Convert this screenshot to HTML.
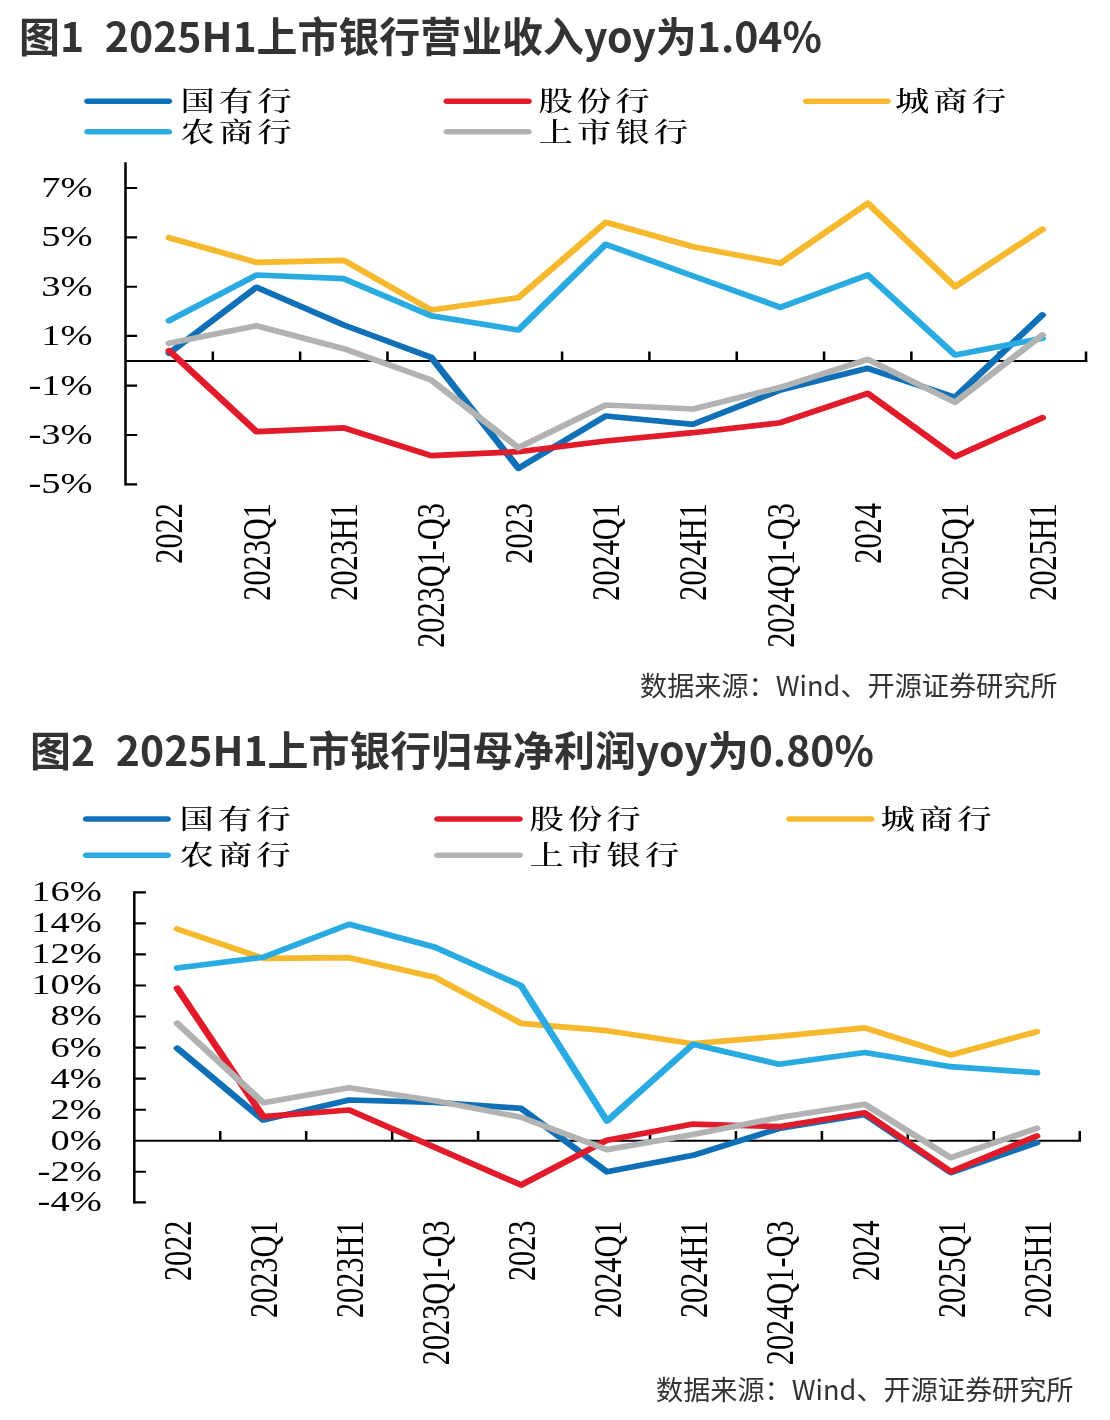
<!DOCTYPE html>
<html lang="zh-CN"><head><meta charset="utf-8"><title>图1 图2</title>
<style>
html,body{margin:0;padding:0;background:#fff;}
body{width:1110px;height:1420px;position:relative;overflow:hidden;font-family:"Liberation Sans","Noto Sans CJK SC",sans-serif;}
.t{position:absolute;white-space:pre;font-family:"Noto Sans CJK SC","Liberation Sans",sans-serif;font-weight:700;font-size:40.93px;line-height:60px;color:#333;word-spacing:1.1px;}
.s{position:absolute;white-space:pre;font-family:"Noto Sans CJK SC","Liberation Sans",sans-serif;font-weight:400;font-size:27.15px;line-height:40px;color:#333;}
svg{position:absolute;left:0;top:0;}
.ax{font-family:"Liberation Serif",serif;font-size:30.3px;fill:#000;}
.lg{font-family:"Noto Serif CJK SC","Liberation Serif",serif;fill:#000;font-weight:500;}
</style></head><body>
<div class="t" style="left:19px;top:4.8px;">图1  2025H1上市银行营业收入yoy为1.04%</div>
<div class="s" style="left:640px;top:664.6px;">数据来源：Wind、开源证券研究所</div>
<div class="t" style="left:30px;top:718.8px;">图2  2025H1上市银行归母净利润yoy为0.80%</div>
<div class="s" style="left:656px;top:1369px;">数据来源：Wind、开源证券研究所</div>
<svg width="1110" height="1420" viewBox="0 0 1110 1420">
<g transform="scale(1.27,1)">
<path d="M98.82,361.0H856.16M98.82,188.0h9.13M98.82,237.4h9.13M98.82,286.7h9.13M98.82,335.9h9.13M98.82,385.6h9.13M98.82,435.0h9.13M98.82,484.3h9.13" fill="none" stroke="#000" stroke-width="2.15"/>
<path d="M98.82,162.2V485.4M167.57,361.0v-9.6M236.33,361.0v-9.6M305.09,361.0v-9.6M373.84,361.0v-9.6M442.60,361.0v-9.6M511.35,361.0v-9.6M580.11,361.0v-9.6M648.87,361.0v-9.6M717.62,361.0v-9.6M786.38,361.0v-9.6M855.13,361.0v-9.6" fill="none" stroke="#000" stroke-width="2.0"/>
<polyline points="133.20,353.3 201.95,287.3 270.71,325.0 339.46,357.3 408.22,468.3 476.98,416.0 545.73,424.3 614.49,390.0 683.24,368.3 752.00,397.3 820.76,315.0" fill="none" stroke="#1070B7" stroke-width="5.7" stroke-linecap="round" stroke-linejoin="round"/>
<polyline points="133.20,350.7 201.95,431.7 270.71,427.9 339.46,455.7 408.22,451.7 476.98,441.0 545.73,432.7 614.49,422.7 683.24,393.3 752.00,456.7 820.76,417.7" fill="none" stroke="#E21B2B" stroke-width="5.7" stroke-linecap="round" stroke-linejoin="round"/>
<polyline points="133.20,237.7 201.95,262.3 270.71,260.3 339.46,310.0 408.22,297.7 476.98,222.3 545.73,246.7 614.49,263.3 683.24,203.3 752.00,286.7 820.76,229.3" fill="none" stroke="#F6B92E" stroke-width="5.7" stroke-linecap="round" stroke-linejoin="round"/>
<polyline points="133.20,320.7 201.95,275.0 270.71,278.7 339.46,315.7 408.22,330.0 476.98,244.3 545.73,276.0 614.49,307.3 683.24,275.0 752.00,355.0 820.76,338.3" fill="none" stroke="#29ABE2" stroke-width="5.7" stroke-linecap="round" stroke-linejoin="round"/>
<polyline points="133.20,343.3 201.95,325.7 270.71,348.7 339.46,380.0 408.22,447.7 476.98,405.0 545.73,409.0 614.49,387.3 683.24,359.3 752.00,402.3 820.76,335.0" fill="none" stroke="#B1B3B3" stroke-width="5.7" stroke-linecap="round" stroke-linejoin="round"/>
<text class="ax" text-anchor="end" x="72.83" y="197.0">7%</text>
<text class="ax" text-anchor="end" x="72.83" y="246.4">5%</text>
<text class="ax" text-anchor="end" x="72.83" y="295.7">3%</text>
<text class="ax" text-anchor="end" x="72.83" y="344.9">1%</text>
<text class="ax" text-anchor="end" x="72.83" y="394.6">-1%</text>
<text class="ax" text-anchor="end" x="72.83" y="444.0">-3%</text>
<text class="ax" text-anchor="end" x="72.83" y="493.3">-5%</text>
<text class="ax" text-anchor="end" transform="translate(143.59,503.1) scale(1.05,1) rotate(-90)">2022</text>
<text class="ax" text-anchor="end" transform="translate(212.35,503.1) scale(1.05,1) rotate(-90)">2023Q1</text>
<text class="ax" text-anchor="end" transform="translate(281.10,503.1) scale(1.05,1) rotate(-90)">2023H1</text>
<text class="ax" text-anchor="end" transform="translate(349.86,503.1) scale(1.05,1) rotate(-90)">2023Q1-Q3</text>
<text class="ax" text-anchor="end" transform="translate(418.61,503.1) scale(1.05,1) rotate(-90)">2023</text>
<text class="ax" text-anchor="end" transform="translate(487.37,503.1) scale(1.05,1) rotate(-90)">2024Q1</text>
<text class="ax" text-anchor="end" transform="translate(556.13,503.1) scale(1.05,1) rotate(-90)">2024H1</text>
<text class="ax" text-anchor="end" transform="translate(624.88,503.1) scale(1.05,1) rotate(-90)">2024Q1-Q3</text>
<text class="ax" text-anchor="end" transform="translate(693.64,503.1) scale(1.05,1) rotate(-90)">2024</text>
<text class="ax" text-anchor="end" transform="translate(762.39,503.1) scale(1.05,1) rotate(-90)">2025Q1</text>
<text class="ax" text-anchor="end" transform="translate(831.15,503.1) scale(1.05,1) rotate(-90)">2025H1</text>
<line x1="69.06" y1="101.15" x2="132.76" y2="101.15" stroke="#1070B7" stroke-width="5.5" stroke-linecap="round"/>
<text class="lg" x="142.13" y="111.45" font-size="27" letter-spacing="3.35">国有行</text>
<line x1="351.97" y1="101.15" x2="415.98" y2="101.15" stroke="#E21B2B" stroke-width="5.5" stroke-linecap="round"/>
<text class="lg" x="424.02" y="111.45" font-size="27" letter-spacing="3.35">股份行</text>
<line x1="635.04" y1="101.15" x2="698.66" y2="101.15" stroke="#F6B92E" stroke-width="5.5" stroke-linecap="round"/>
<text class="lg" x="704.72" y="111.45" font-size="27" letter-spacing="3.35">城商行</text>
<line x1="69.06" y1="131.8" x2="132.76" y2="131.8" stroke="#29ABE2" stroke-width="5.5" stroke-linecap="round"/>
<text class="lg" x="142.13" y="142.10000000000002" font-size="27" letter-spacing="3.35">农商行</text>
<line x1="351.97" y1="131.8" x2="415.98" y2="131.8" stroke="#B1B3B3" stroke-width="5.5" stroke-linecap="round"/>
<text class="lg" x="424.02" y="142.10000000000002" font-size="27" letter-spacing="3.35">上市银行</text>
<path d="M105.75,1140.7H851.22M105.75,892.3h9.13M105.75,923.3h9.13M105.75,954.4h9.13M105.75,985.5h9.13M105.75,1016.5h9.13M105.75,1047.6h9.13M105.75,1078.6h9.13M105.75,1109.7h9.13M105.75,1140.7h9.13M105.75,1171.7h9.13M105.75,1202.3h9.13" fill="none" stroke="#000" stroke-width="2.15"/>
<path d="M105.75,891.2V1203.4M173.43,1140.7v-9.6M241.10,1140.7v-9.6M308.78,1140.7v-9.6M376.46,1140.7v-9.6M444.13,1140.7v-9.6M511.81,1140.7v-9.6M579.49,1140.7v-9.6M647.17,1140.7v-9.6M714.84,1140.7v-9.6M782.52,1140.7v-9.6M850.20,1140.7v-9.6" fill="none" stroke="#000" stroke-width="2.0"/>
<polyline points="139.59,1048.3 207.26,1120.0 274.94,1100.0 342.62,1102.3 410.30,1108.3 477.97,1171.8 545.65,1155.3 613.33,1128.5 681.00,1114.5 748.68,1172.7 816.36,1142.7" fill="none" stroke="#1070B7" stroke-width="5.7" stroke-linecap="round" stroke-linejoin="round"/>
<polyline points="139.59,988.3 207.26,1116.7 274.94,1110.0 342.62,1147.5 410.30,1185.0 477.97,1140.2 545.65,1124.1 613.33,1126.7 681.00,1112.8 748.68,1171.7 816.36,1136.0" fill="none" stroke="#E21B2B" stroke-width="5.7" stroke-linecap="round" stroke-linejoin="round"/>
<polyline points="139.59,929.0 207.26,958.3 274.94,957.7 342.62,977.3 410.30,1023.3 477.97,1030.7 545.65,1043.7 613.33,1036.3 681.00,1027.8 748.68,1055.0 816.36,1031.7" fill="none" stroke="#F6B92E" stroke-width="5.7" stroke-linecap="round" stroke-linejoin="round"/>
<polyline points="139.59,968.0 207.26,957.3 274.94,924.3 342.62,947.3 410.30,985.7 477.97,1121.0 545.65,1044.3 613.33,1064.2 681.00,1052.5 748.68,1066.7 816.36,1072.7" fill="none" stroke="#29ABE2" stroke-width="5.7" stroke-linecap="round" stroke-linejoin="round"/>
<polyline points="139.59,1023.3 207.26,1102.7 274.94,1087.7 342.62,1100.7 410.30,1117.3 477.97,1149.6 545.65,1134.5 613.33,1117.5 681.00,1104.3 748.68,1157.7 816.36,1128.3" fill="none" stroke="#B1B3B3" stroke-width="5.7" stroke-linecap="round" stroke-linejoin="round"/>
<text class="ax" text-anchor="end" x="80.08" y="901.3">16%</text>
<text class="ax" text-anchor="end" x="80.08" y="932.3">14%</text>
<text class="ax" text-anchor="end" x="80.08" y="963.4">12%</text>
<text class="ax" text-anchor="end" x="80.08" y="994.5">10%</text>
<text class="ax" text-anchor="end" x="80.08" y="1025.5">8%</text>
<text class="ax" text-anchor="end" x="80.08" y="1056.6">6%</text>
<text class="ax" text-anchor="end" x="80.08" y="1087.6">4%</text>
<text class="ax" text-anchor="end" x="80.08" y="1118.7">2%</text>
<text class="ax" text-anchor="end" x="80.08" y="1149.7">0%</text>
<text class="ax" text-anchor="end" x="80.08" y="1180.7">-2%</text>
<text class="ax" text-anchor="end" x="80.08" y="1211.3">-4%</text>
<text class="ax" text-anchor="end" transform="translate(150.53,1220.5) scale(1.05,1) rotate(-90)">2022</text>
<text class="ax" text-anchor="end" transform="translate(218.21,1220.5) scale(1.05,1) rotate(-90)">2023Q1</text>
<text class="ax" text-anchor="end" transform="translate(285.89,1220.5) scale(1.05,1) rotate(-90)">2023H1</text>
<text class="ax" text-anchor="end" transform="translate(353.56,1220.5) scale(1.05,1) rotate(-90)">2023Q1-Q3</text>
<text class="ax" text-anchor="end" transform="translate(421.24,1220.5) scale(1.05,1) rotate(-90)">2023</text>
<text class="ax" text-anchor="end" transform="translate(488.92,1220.5) scale(1.05,1) rotate(-90)">2024Q1</text>
<text class="ax" text-anchor="end" transform="translate(556.59,1220.5) scale(1.05,1) rotate(-90)">2024H1</text>
<text class="ax" text-anchor="end" transform="translate(624.27,1220.5) scale(1.05,1) rotate(-90)">2024Q1-Q3</text>
<text class="ax" text-anchor="end" transform="translate(691.95,1220.5) scale(1.05,1) rotate(-90)">2024</text>
<text class="ax" text-anchor="end" transform="translate(759.63,1220.5) scale(1.05,1) rotate(-90)">2025Q1</text>
<text class="ax" text-anchor="end" transform="translate(827.30,1220.5) scale(1.05,1) rotate(-90)">2025H1</text>
<line x1="68.03" y1="819" x2="131.81" y2="819" stroke="#1070B7" stroke-width="5.5" stroke-linecap="round"/>
<text class="lg" x="141.34" y="829.3" font-size="27" letter-spacing="3.35">国有行</text>
<line x1="344.65" y1="819" x2="408.90" y2="819" stroke="#E21B2B" stroke-width="5.5" stroke-linecap="round"/>
<text class="lg" x="416.93" y="829.3" font-size="27" letter-spacing="3.35">股份行</text>
<line x1="621.81" y1="819" x2="685.91" y2="819" stroke="#F6B92E" stroke-width="5.5" stroke-linecap="round"/>
<text class="lg" x="693.31" y="829.3" font-size="27" letter-spacing="3.35">城商行</text>
<line x1="68.03" y1="855.2" x2="131.81" y2="855.2" stroke="#29ABE2" stroke-width="5.5" stroke-linecap="round"/>
<text class="lg" x="141.34" y="865.5" font-size="27" letter-spacing="3.35">农商行</text>
<line x1="344.65" y1="855.2" x2="408.90" y2="855.2" stroke="#B1B3B3" stroke-width="5.5" stroke-linecap="round"/>
<text class="lg" x="416.93" y="865.5" font-size="27" letter-spacing="3.35">上市银行</text>
</g>
</svg>
</body></html>
